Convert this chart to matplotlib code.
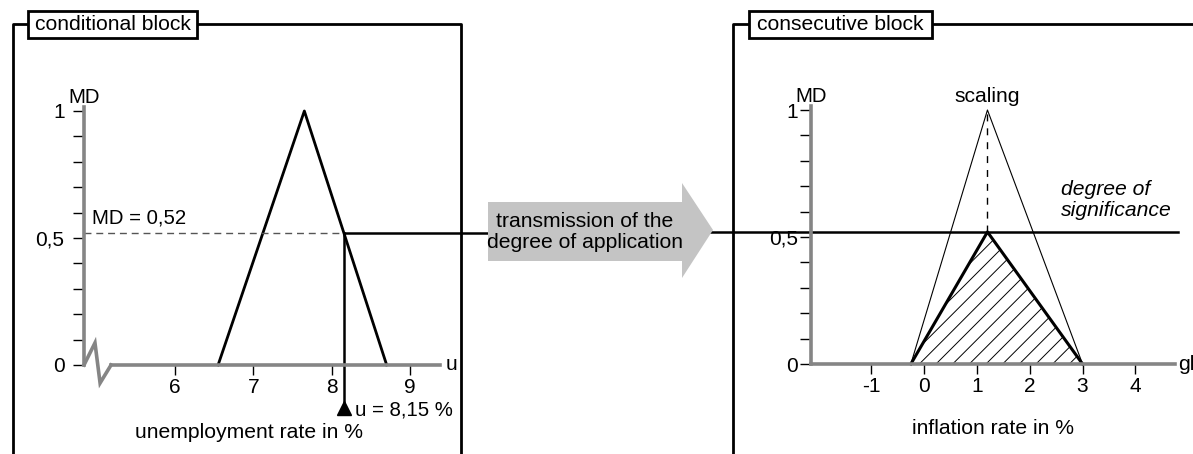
import numpy as np
import matplotlib
matplotlib.use("Agg")
import matplotlib.pyplot as plt
from matplotlib.patches import Polygon, Rectangle
from matplotlib.ticker import MultipleLocator

plt.rcParams['font.family'] = ['Liberation Sans', 'DejaVu Sans']
plt.rcParams['hatch.linewidth'] = 0.7

# --- conditional block: unemployment rate ---
u_tri_x = [6.55, 7.65, 8.7]
u_tri_y = [0, 1, 0]
u_val = 8.15
md_val = 0.52
u_ticks = [6, 7, 8, 9]

# --- consecutive block: inflation rate ---
g_tri_x = [-0.25, 1.2, 3.0]
g_tri_y = [0, 1, 0]
g_ticks = [-1, 0, 1, 2, 3, 4]

md_ticks = [0, 0.5, 1]
md_tick_labels = ['0', '0,5', '1']

AX_GRAY = '#858585'
FS = 15.2
TFS = 15
W, H = 1193, 454

fig = plt.figure(figsize=(W / 100, H / 100), dpi=100)


def px_box(l, r, t, b):
    # rectangle in pixels -> figure fraction
    return [l / W, 1 - b / H, (r - l) / W, (b - t) / H]


ax_l = fig.add_axes(px_box(84, 440, 111, 365))
ax_r = fig.add_axes(px_box(811, 1175, 110, 364))
deco = fig.add_axes([0, 0, 1, 1], zorder=5)
deco.set_xlim(0, W)
deco.set_ylim(H, 0)
deco.axis('off')
deco.patch.set_alpha(0)


def style_axes(ax, xlim, xticks, ypad):
    ax.set_xlim(xlim)
    ax.set_ylim(0, 1)
    ax.patch.set_alpha(0)
    for s in ['top', 'right']:
        ax.spines[s].set_visible(False)
    for s in ['left', 'bottom']:
        ax.spines[s].set_color(AX_GRAY)
        ax.spines[s].set_linewidth(2.6)
    ax.spines['left'].set_bounds(0, 1.016)
    ax.set_xticks(xticks, [str(t) for t in xticks])
    ax.set_yticks(md_ticks, md_tick_labels)
    ax.yaxis.set_minor_locator(MultipleLocator(0.1))
    ax.tick_params(axis='y', which='both', length=8, width=1, color='black',
                   direction='out', labelsize=TFS, pad=ypad)
    ax.tick_params(axis='x', length=7.5, width=1, color='black',
                   direction='out', labelsize=TFS, pad=2)


# left panel
style_axes(ax_l, (4.84, 9.38), u_ticks, 6)
ax_l.spines['bottom'].set_bounds(5.185, 9.38)
ax_l.plot([4.84, 4.98, 5.045, 5.185], [0, 0.087, -0.071, 0], color=AX_GRAY,
          lw=2.6, clip_on=False, solid_joinstyle='miter')
ax_l.plot(u_tri_x, u_tri_y, color='black', lw=2, clip_on=False)
ax_l.plot([4.84, u_val], [md_val, md_val], color='#555555', lw=1,
          dashes=(5, 3.5))
ax_l.plot([u_val, u_val], [md_val, -0.173], color='black', lw=1.8, clip_on=False)
ax_l.plot([u_val], [-0.168], marker='^', color='black', ms=10, clip_on=False)
ax_l.plot([u_val, 10.5], [md_val, md_val], color='black', lw=1.8, clip_on=False)
ax_l.text(8.29, -0.177, 'u = 8,15 %', fontsize=FS - 0.5, ha='left', va='center')
ax_l.text(4.94, 0.579, 'MD = 0,52', fontsize=FS - 0.5, ha='left', va='center')
ax_l.text(4.84, 1.055, 'MD', fontsize=FS - 0.5, ha='center', va='center')
ax_l.text(9.45, 0, 'u', fontsize=FS, ha='left', va='center')
ax_l.text(6.94, -0.264, 'unemployment rate in %', fontsize=FS, ha='center', va='center')

# right panel
style_axes(ax_r, (-2.14, 4.75), g_ticks, 1.5)
ax_r.plot(g_tri_x, g_tri_y, color='black', lw=0.8, clip_on=False)
scaled_y = [y * md_val for y in g_tri_y]
ax_r.add_patch(Polygon(list(zip(g_tri_x, scaled_y)), closed=True, facecolor='none',
                       edgecolor='black', hatch='//', lw=0))
ax_r.plot(g_tri_x, scaled_y, color='black', lw=2.2, clip_on=False)
ax_r.plot([g_tri_x[1], g_tri_x[1]], [md_val, 1], color='black', lw=1, dashes=(5, 5))
ax_r.plot([-4.5, 4.81], [md_val, md_val], color='black', lw=1.8, clip_on=False)
ax_r.text(-2.14, 1.055, 'MD', fontsize=FS - 0.5, ha='center', va='center')
ax_r.text(g_tri_x[1], 1.055, 'scaling', fontsize=FS, ha='center', va='center')
ax_r.text(2.6, 0.646, 'degree of\nsignificance', fontsize=FS, style='italic',
          ha='left', va='center', linespacing=1.1)
ax_r.text(4.8, 0, 'gl', fontsize=FS, ha='left', va='center', clip_on=False)
ax_r.text(1.31, -0.252, 'inflation rate in %', fontsize=FS, ha='center', va='center')

# frames with labelled boxes
for xs, ys in [([13, 13, 28], [H, 24, 24]), ([197, 461, 461], [24, 24, H]),
               ([733, 733, 749], [H, 24, 24]), ([932, W], [24, 24])]:
    deco.plot(xs, ys, color='black', lw=2, solid_capstyle='butt')
for (l, r, label) in [(28, 197, 'conditional block'), (749, 932, 'consecutive block')]:
    deco.add_patch(Rectangle((l, 11), r - l, 27, facecolor='white',
                             edgecolor='black', lw=2))
    deco.text((l + r) / 2, 24.5, label, fontsize=FS, ha='center', va='center')

# transmission arrow
deco.add_patch(Polygon([(488, 202), (682, 202), (682, 183), (713, 230),
                        (682, 278), (682, 261), (488, 261)],
                       closed=True, facecolor='#c4c4c4', edgecolor='none'))
deco.text(585, 232, 'transmission of the\ndegree of application', fontsize=FS,
          ha='center', va='center', linespacing=1.15)

fig.savefig('out.png', dpi=100)
